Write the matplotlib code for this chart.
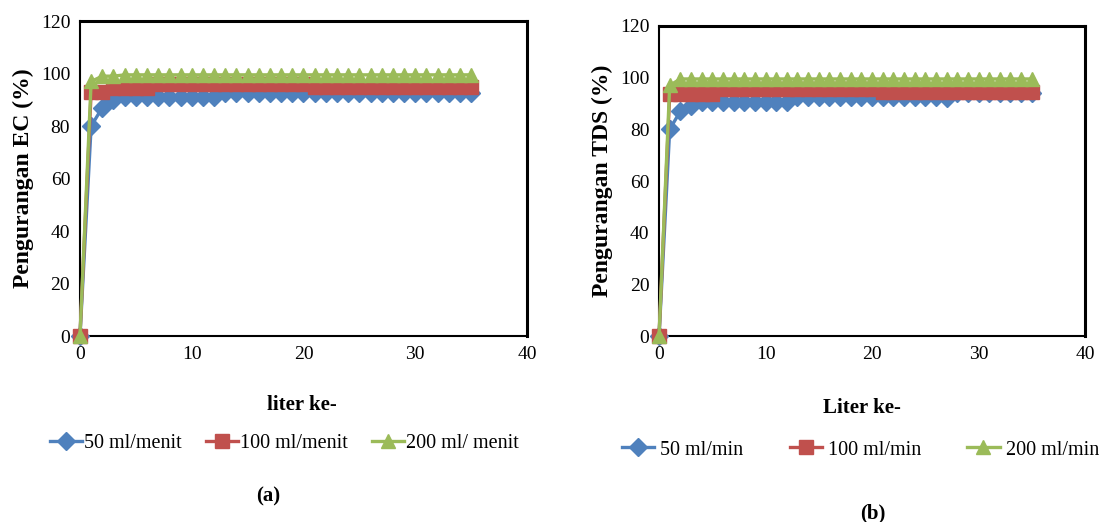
import matplotlib.pyplot as plt

# liter number (x) for both panels
liter = list(range(0, 36))

# (a) EC reduction (%)
ec_50 = [0, 80, 87, 90] + [91] * 9 + [92.5] * 23
ec_100 = [0, 93, 93, 94.5, 94.5, 94.5, 94.5] + [96] * 14 + [95] * 15
ec_200 = [0, 97, 99, 99] + [99.5] * 32

# (b) TDS reduction (%)
tds_50 = [0, 80, 87, 89] + [90.5] * 9 + [92.5] * 14 + [92] + [94] * 8
tds_100 = [0, 93.5, 93.5, 93.5, 93.5, 93.5] + [95.5] * 15 + [94.5] * 15
tds_200 = [0, 97, 99.5] + [99.5] * 33

labels_a = ['50 ml/menit', '100 ml/menit', '200 ml/ menit']
labels_b = ['50 ml/min', '100 ml/min', '200 ml/min']

colors = ['#4F81BD', '#C0504D', '#9BBB59']
markers = ['D', 's', '^']
msizes = [9, 9.5, 10.5]

plt.rcParams['font.family'] = ['Liberation Serif', 'DejaVu Serif']

fig = plt.figure(figsize=(11.03, 5.22), dpi=100)
ax_a = fig.add_axes([0.0725, 0.3563, 0.4053, 0.6034])
ax_b = fig.add_axes([0.5975, 0.3563, 0.3862, 0.5939])


def draw_panel(ax, series, labels, ylabel):
    lines = []
    for y, lab, c, m, ms in zip(series, labels, colors, markers, msizes):
        ln, = ax.plot(liter, y, color=c, marker=m, markersize=ms, lw=2.4,
                      markeredgecolor=c, label=lab, clip_on=False, zorder=3)
        lines.append(ln)
    ax.set_xlim(0, 40)
    ax.set_ylim(0, 120)
    ax.set_xticks(range(0, 41, 10))
    ax.set_yticks(range(0, 121, 20))
    ax.tick_params(length=0, labelsize=14, pad=7)
    for s in ['top', 'right']:
        ax.spines[s].set_linewidth(2.2)
    for s in ['left', 'bottom']:
        ax.spines[s].set_linewidth(1.5)
    for s in ax.spines.values():
        s.set_color('black')
    ax.set_ylabel(ylabel, fontsize=17, fontweight='bold', labelpad=5)
    return lines


la = draw_panel(ax_a, [ec_50, ec_100, ec_200], labels_a, 'Pengurangan EC (%)')
lb = draw_panel(ax_b, [tds_50, tds_100, tds_200], labels_b, 'Pengurangan TDS (%)')

fig.text(0.274, 0.224, 'liter ke-', ha='center', va='center', fontsize=15, fontweight='bold')
fig.text(0.7815, 0.218, 'Liter ke-', ha='center', va='center', fontsize=15, fontweight='bold')

fig.legend(la, labels_a, loc='center', bbox_to_anchor=(0.258, 0.151), ncol=3,
           frameon=False, fontsize=14.5, handlelength=1.6, handletextpad=0.1,
           columnspacing=1.2)
fig.legend(lb, labels_b, loc='center', bbox_to_anchor=(0.78, 0.138), ncol=3,
           frameon=False, fontsize=14.5, handlelength=1.6, handletextpad=0.3,
           columnspacing=2.3)

fig.text(0.243, 0.048, '(a)', ha='center', va='center', fontsize=15, fontweight='bold')
fig.text(0.791, 0.017, '(b)', ha='center', va='center', fontsize=15, fontweight='bold')

fig.savefig('out.png', dpi=100)
